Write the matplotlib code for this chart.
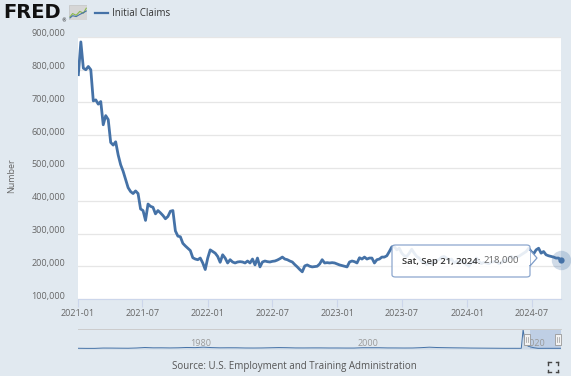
import numpy as np
import pandas as pd
import matplotlib
matplotlib.use("Agg")
import matplotlib.pyplot as plt
from matplotlib.patches import FancyBboxPatch, Rectangle, Polygon
from matplotlib.transforms import ScaledTranslation

# Weekly initial claims, Jan 2 2021 .. Sep 21 2024 (thousands)
dates = pd.date_range("2021-01-02", "2024-09-21", freq="7D")
claims_k = [
    785, 885, 805, 800, 810, 800, 705, 708, 695, 703,
    632, 660, 648, 578, 570, 580, 540, 510, 490, 465,
    440, 428, 422, 430, 422, 375, 370, 340, 390, 383,
    380, 360, 370, 363, 355, 345, 352, 368, 370, 308,
    292, 290, 270, 262, 255, 248, 226, 222, 220, 225,
    210, 190, 225, 250, 245, 240, 230, 212, 235, 225,
    210, 220, 213, 210, 213, 214, 213, 210, 216, 210,
    222, 204, 225, 198, 213, 216, 214, 213, 215, 216,
    219, 223, 228, 222, 220, 216, 213, 205, 198, 190,
    183, 201, 204, 200, 198, 199, 200, 207, 220, 210,
    211, 210, 211, 210, 207, 204, 202, 200, 198, 213,
    216, 214, 210, 226, 222, 228, 222, 225, 225, 210,
    220, 222, 228, 228, 232, 245, 259, 260, 250, 255,
    240, 232, 230, 240, 252, 240, 230, 225, 215, 212,
    205, 210, 208, 212, 218, 220, 228, 230, 225, 218,
    222, 210, 215, 208, 218, 210, 205, 200, 212, 210,
    225, 215, 208, 212, 210, 208, 212, 214, 215, 208,
    210, 218, 215, 225, 230, 225, 228, 230, 235, 240,
    245, 255, 245, 238, 250, 255, 240, 245, 235, 232,
    230, 228, 225, 225, 218,
]
claims = np.array(claims_k) * 1000

x_ticks = pd.to_datetime(["2021-01-01", "2021-07-01", "2022-01-01", "2022-07-01",
                          "2023-01-01", "2023-07-01", "2024-01-01", "2024-07-01"])
x_tick_labels = ["2021-01", "2021-07", "2022-01", "2022-07",
                 "2023-01", "2023-07", "2024-01", "2024-07"]
y_ticks = [100000, 200000, 300000, 400000, 500000, 600000, 700000, 800000, 900000]

# navigator history (year, claims)
nav_years = [1967, 1968, 1969, 1970, 1971, 1972, 1973, 1974, 1975, 1976, 1977, 1978,
             1979, 1980, 1981, 1982, 1983, 1984, 1985, 1986, 1987, 1988, 1989, 1990,
             1991, 1992, 1993, 1994, 1995, 1996, 1997, 1998, 1999, 2000, 2001, 2002,
             2003, 2004, 2005, 2006, 2007, 2008, 2009, 2010, 2011, 2012, 2013, 2014,
             2015, 2016, 2017, 2018, 2019, 2020.0, 2020.22, 2020.5, 2020.9, 2021.5,
             2022, 2023, 2024, 2024.72]
nav_claims_k = [230, 200, 200, 300, 290, 260, 240, 320, 470, 370, 380, 340,
                380, 480, 430, 580, 440, 370, 390, 380, 320, 310, 330, 390,
                450, 410, 340, 330, 350, 350, 320, 320, 300, 300, 400, 400,
                400, 340, 330, 310, 320, 420, 570, 460, 410, 370, 340, 300,
                280, 260, 240, 220, 218, 215, 6100, 1400, 800, 400,
                210, 220, 215, 218]
nav_labels = ["1980", "2000", "2020"]

W, H = 571, 376
BG = "#e1e9f0"
BLUE = "#4572a7"
GRAY = "#666666"
FONT = "Open Sans"

fig = plt.figure(figsize=(W / 100, H / 100), dpi=100, facecolor=BG)


def px(x0, y0, w, h):
    return [x0 / W, 1 - (y0 + h) / H, w / W, h / H]


# main chart
ax = fig.add_axes(px(78, 37, 483, 262))
ax.set_facecolor("white")
ax.plot(dates, claims, color=BLUE, lw=2.0, solid_joinstyle="round", zorder=3)
ax.plot(dates[-1], claims[-1], "o", ms=14, color=BLUE, alpha=0.25, mec="none",
        clip_on=False, zorder=4)
ax.plot(dates[-1], claims[-1], "o", ms=4.5, color=BLUE, mec="none",
        clip_on=False, zorder=5)
ax.set_xlim(pd.Timestamp("2021-01-01"), pd.Timestamp("2024-09-21"))
ax.set_ylim(100000, 900000)
ax.set_yticks(y_ticks)
ax.set_yticklabels([f"{v:,}" for v in y_ticks], fontsize=6.5, color=GRAY, family=FONT)
ax.set_xticks(x_ticks)
ax.set_xticklabels(x_tick_labels, fontsize=6.5, color=GRAY, family=FONT)
ax.tick_params(axis="y", length=0, pad=9)
ax.tick_params(axis="x", length=5.5, width=0.8, color="#ccd6eb", pad=2)
for lab in ax.get_yticklabels():
    lab.set_transform(lab.get_transform() + ScaledTranslation(0, 0.04, fig.dpi_scale_trans))
ax.grid(axis="y", color="#e6e6e6", lw=0.9)
ax.set_axisbelow(True)
for s in ["top", "right", "left"]:
    ax.spines[s].set_visible(False)
ax.spines["bottom"].set_color("#ccd6eb")
ax.spines["bottom"].set_linewidth(0.8)
ax.set_ylabel("Number", fontsize=6.5, color=GRAY, family=FONT)
ax.yaxis.set_label_coords(-62 / 483, 0.47)

# tooltip
tx0, ty0, tx1, ty1 = 392, 245, 530, 277
box = FancyBboxPatch((tx0 / W, 1 - ty1 / H), (tx1 - tx0) / W, (ty1 - ty0) / H,
                     boxstyle="round,pad=0,rounding_size=0.006",
                     transform=fig.transFigure, facecolor="white", alpha=0.88,
                     edgecolor="#7d9bc7", lw=0.9, zorder=10)
fig.patches.append(box)
tri = Polygon([(tx1 / W, 1 - 250 / H), (537 / W, 1 - 258 / H), (tx1 / W, 1 - 266 / H)],
              closed=True, transform=fig.transFigure, facecolor="white",
              edgecolor="#7d9bc7", lw=0.9, zorder=10)
fig.patches.append(tri)
fig.patches.append(Rectangle(((tx1 - 1.2) / W, 1 - 265 / H), 1.6 / W, 14 / H,
                             transform=fig.transFigure, facecolor="white",
                             edgecolor="none", zorder=11))
t_bold = fig.text(402 / W, 1 - 261 / H, "Sat, Sep 21, 2024:", fontsize=6.8,
                  color="#333333", fontweight="semibold", family=FONT,
                  va="center", ha="left", zorder=12)
renderer = fig.canvas.get_renderer()
bb = t_bold.get_window_extent(renderer)
fig.text((bb.x1 + 3) / W, 1 - 261 / H, "218,000", fontsize=6.8, color=GRAY,
         family=FONT, va="center", ha="left", zorder=12)

# header: logo + legend
fig.text(3 / W, 1 - 13 / H, "FRED", fontsize=14, fontweight="bold",
         family="DejaVu Sans", color="#111111", va="center", ha="left")
fig.text(61 / W, 1 - 21 / H, "®", fontsize=3.5, color="#111111", va="center")
icon = fig.add_axes(px(69, 5, 18, 15))
icon.set_xlim(0, 5)
icon.set_ylim(0, 7)
icon.axis("off")
icon.add_patch(Rectangle((0, 0), 5, 7, facecolor="#d6d6d6", edgecolor="#c4c4c4",
                         lw=0.5, zorder=0))
icon.plot([0.3, 1, 2, 3, 4, 4.8], [1.5, 3, 2.2, 4, 3.2, 5.5], color="#8ab84a", lw=0.8)
icon.plot([0.3, 1, 2, 3, 4, 4.8], [1, 2, 1.6, 2.6, 3.4, 4.2], color=BLUE, lw=0.8)
fig.add_artist(plt.Line2D([95 / W, 108 / W], [1 - 13 / H, 1 - 13 / H], color=BLUE, lw=1.6))
fig.text(112 / W, 1 - 13 / H, "Initial Claims", fontsize=7, color="#333333",
         family=FONT, va="center", ha="left")

# navigator
nav = fig.add_axes(px(78, 329, 483, 20))
nav.set_facecolor("none")
nav_vals = np.array(nav_claims_k) * 1000
nav.fill_between(nav_years, 0, nav_vals, color=BLUE, alpha=0.12, lw=0)
nav.plot(nav_years, nav_vals, color=BLUE, lw=0.7)
nav.set_xlim(1967, 2024.75)
nav.set_ylim(0, 6.3e6)
nav.axis("off")
for lab in nav_labels:
    nav.text(int(lab) + 0.4, 0.3, lab, transform=nav.get_xaxis_transform(),
             fontsize=6.5, color="#999999", family=FONT, va="center", ha="left")
nav.axvspan(2021.0, 2024.72, color="#a9bfdf", alpha=0.6, lw=0)
fig.add_artist(plt.Line2D([78 / W, 561 / W], [1 - 329 / H, 1 - 329 / H],
                          color="#cccccc", lw=0.7))
for hx in (527, 558):
    fig.patches.append(Rectangle(((hx - 3) / W, 1 - 345 / H), 6 / W, 11 / H,
                                 transform=fig.transFigure, facecolor="#f2f2f2",
                                 edgecolor="#999999", lw=0.6, zorder=6))
    fig.add_artist(plt.Line2D([(hx - 0.8) / W, (hx - 0.8) / W], [1 - 342 / H, 1 - 337 / H],
                              color="#999999", lw=0.5, zorder=7))
    fig.add_artist(plt.Line2D([(hx + 0.8) / W, (hx + 0.8) / W], [1 - 342 / H, 1 - 337 / H],
                              color="#999999", lw=0.5, zorder=7))

# source and fullscreen icon
fig.text(294 / W, 1 - 367 / H, "Source: U.S. Employment and Training Administration",
         fontsize=7, color="#555555", family=FONT, va="center", ha="center")
cx, cy, r, k = 553, 367, 5, 2.5
for sx in (-1, 1):
    for sy in (-1, 1):
        x0, y0 = cx + sx * r, cy + sy * r
        fig.add_artist(plt.Line2D([x0 / W, (x0 - sx * k) / W], [1 - y0 / H, 1 - y0 / H],
                                  color="#444444", lw=1.0))
        fig.add_artist(plt.Line2D([x0 / W, x0 / W], [1 - y0 / H, 1 - (y0 - sy * k) / H],
                                  color="#444444", lw=1.0))

fig.savefig("out.png", dpi=100, facecolor=BG)
